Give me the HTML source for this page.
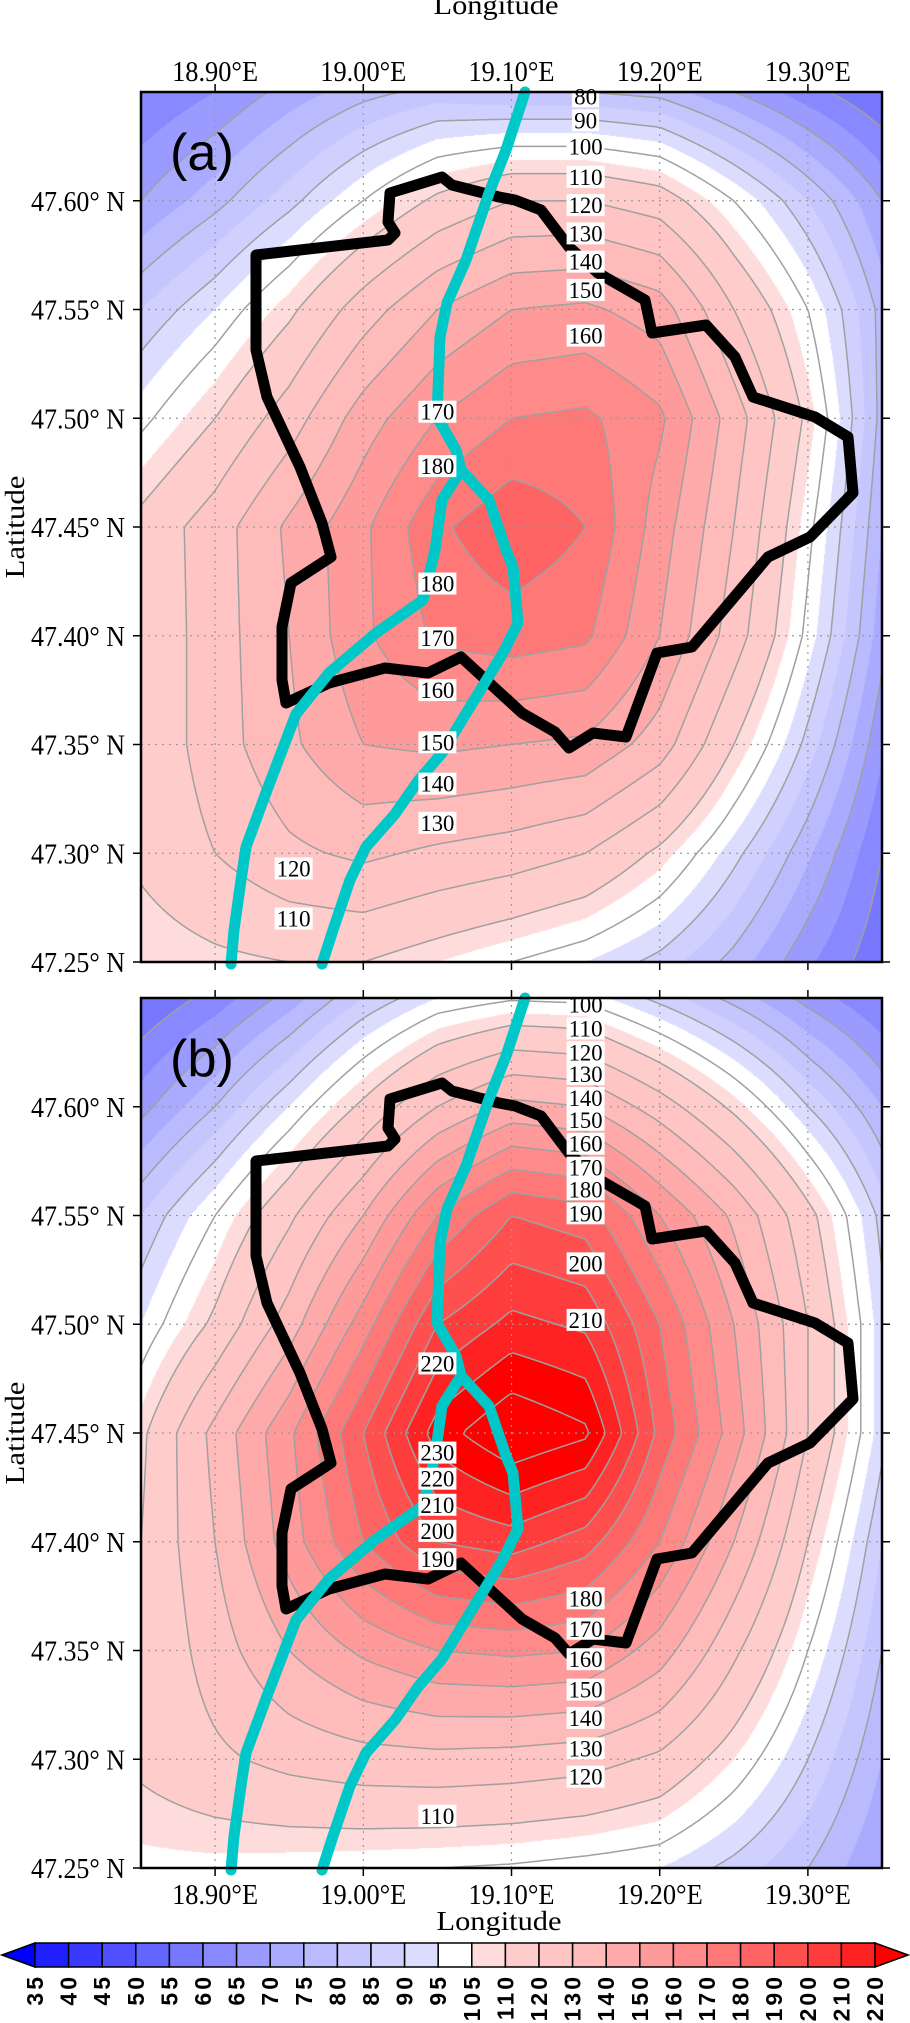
<!DOCTYPE html>
<html><head><meta charset="utf-8">
<style>
html,body{margin:0;padding:0;background:#fff;}
#wrap{position:relative;width:910px;height:2023px;overflow:hidden;}
canvas{position:absolute;left:141px;}
svg{position:absolute;left:0;top:0;}
text{font-family:"Liberation Serif",serif;}
</style></head>
<body>
<div id="wrap">
<canvas id="cva" width="741" height="870" style="top:92px"></canvas>
<canvas id="cvb" width="741" height="870" style="top:998px"></canvas>
<svg id="ov" width="910" height="2023" xmlns="http://www.w3.org/2000/svg"></svg>
</div>
<script>
// ---- data ----
const lons = [18.85,18.90,18.95,19.00,19.05,19.10,19.15,19.20,19.25,19.30,19.35];
const lats = [47.65,47.60,47.55,47.50,47.45,47.40,47.35,47.30,47.25];
const gridA = [
 [60,65,72,78,82,80,80,78,70,62,55],
 [70,78,88,100,112,120,120,115,100,85,70],
 [85,95,108,125,140,150,152,145,120,100,78],
 [98,110,125,145,160,170,172,162,135,108,78],
 [113,125,142,158,178,188,180,155,130,102,75],
 [112,125,140,158,172,175,172,150,125,98,72],
 [112,125,138,150,152,150,148,135,110,88,66],
 [112,120,128,132,128,125,120,108,92,76,60],
 [105,108,110,110,105,100,95,88,78,66,56]
];
const gridB = [
 [55,62,72,85,95,99,98,88,78,68,60],
 [68,80,95,112,130,143,140,125,108,90,75],
 [85,100,118,140,170,190,185,160,138,113,88],
 [95,112,135,165,200,213,208,180,150,120,92],
 [108,133,158,190,225,240,232,187,155,120,92],
 [110,130,155,180,200,205,195,170,140,110,85],
 [110,125,140,152,160,162,160,145,122,100,80],
 [112,118,123,126,127,126,124,118,105,90,75],
 [103,103,102,101,100,99,97,95,88,80,70]
];
const cbLevels = [35,40,45,50,55,60,65,70,75,80,85,90,95,105,110,120,130,140,150,160,170,180,190,200,210,220];
const cbColors = ['#0000ff','#2020ff','#3a3aff','#5050ff','#6464ff','#7878ff','#8888ff','#9a9aff','#aaaaff','#babaff','#c6c6ff','#d0d0ff','#dcdcff','#ffffff','#ffdcdc','#ffcccc','#ffc4c4','#ffbaba','#ffaaaa','#ff9a9a','#ff8a8a','#ff7878','#ff6464','#ff5050','#ff3c3c','#ff2222','#ff0000'];
const lineLevels = [30,40,50,60,70,80,90,100,110,120,130,140,150,160,170,180,190,200,210,220,230,240];
const lonTicks = [18.90,19.00,19.10,19.20,19.30];
const lonTickLabels = ['18.90°E','19.00°E','19.10°E','19.20°E','19.30°E'];
const latTicks = [47.60,47.55,47.50,47.45,47.40,47.35,47.30,47.25];
const latTickLabels = ['47.60° N','47.55° N','47.50° N','47.45° N','47.40° N','47.35° N','47.30° N','47.25° N'];
const labelsA = [[19.15,47.648,'80'],[19.15,47.637,'90'],[19.15,47.625,'100'],[19.15,47.611,'110'],[19.15,47.598,'120'],[19.15,47.585,'130'],[19.15,47.572,'140'],[19.15,47.559,'150'],[19.15,47.538,'160'],[19.05,47.503,'170'],[19.05,47.478,'180'],[19.05,47.424,'180'],[19.05,47.399,'170'],[19.05,47.375,'160'],[19.05,47.351,'150'],[19.05,47.332,'140'],[19.05,47.314,'130'],[18.953,47.293,'120'],[18.953,47.270,'110']];
const labelsB = [[19.15,47.647,'100'],[19.15,47.636,'110'],[19.15,47.625,'120'],[19.15,47.615,'130'],[19.15,47.604,'140'],[19.15,47.594,'150'],[19.15,47.583,'160'],[19.15,47.572,'170'],[19.15,47.562,'180'],[19.15,47.551,'190'],[19.15,47.528,'200'],[19.15,47.502,'210'],[19.05,47.482,'220'],[19.05,47.441,'230'],[19.05,47.429,'220'],[19.05,47.417,'210'],[19.05,47.405,'200'],[19.05,47.392,'190'],[19.15,47.374,'180'],[19.15,47.360,'170'],[19.15,47.346,'160'],[19.15,47.332,'150'],[19.15,47.319,'140'],[19.15,47.305,'130'],[19.15,47.292,'120'],[19.05,47.274,'110']];
// geography (pixel coords relative to panel a)
const boundary = [[256,255],[388,240],[395,233],[388,222],[390,193],[442,177],[452,185],[499,197],[515,200],[541,210],[569,247],[598,273],[645,300],[652,333],[706,325],[735,357],[753,397],[815,417],[848,437],[853,493],[810,537],[768,557],[692,647],[657,653],[626,737],[593,733],[569,748],[555,732],[522,713],[461,657],[428,673],[385,668],[329,683],[286,703],[282,680],[282,627],[291,583],[331,557],[322,523],[300,467],[267,397],[256,350]];
const riverMain = [[525,92],[506,150],[489,193],[466,260],[447,303],[440,337],[437,417],[456,450],[461,470]];
const riverWest = [[461,470],[442,500],[435,550],[423,600],[376,633],[329,673],[296,714],[267,790],[246,847],[241,880],[234,930],[231,964]];
const riverEast = [[461,470],[489,500],[506,550],[513,567],[518,623],[503,653],[470,707],[442,753],[418,781],[395,814],[366,847],[350,880],[333,930],[322,964]];

// ---- axes ----
const PL=141, PW=741, PH=870;
const tops = {a:92, b:998};
function xOf(lon){return PL + (lon-18.85)/0.5*PW;}
function yOf(lat,top){return top + (47.65-lat)/0.4*PH;}
function fieldVal(g,px,py){
  const gx = Math.min(Math.max(px/PW*10,0),9.9999), gy = Math.min(Math.max(py/PH*8,0),7.9999);
  const i=Math.floor(gx), j=Math.floor(gy), fx=gx-i, fy=gy-j;
  return g[j][i]*(1-fx)*(1-fy)+g[j][i+1]*fx*(1-fy)+g[j+1][i]*(1-fx)*fy+g[j+1][i+1]*fx*fy;
}
function colorIdx(v){let k=0;while(k<cbLevels.length && v>=cbLevels[k])k++;return k;}
function hex(c){return [parseInt(c.substr(1,2),16),parseInt(c.substr(3,2),16),parseInt(c.substr(5,2),16)];}
const rgb = cbColors.map(hex);

function fill(id,g){
  const cv=document.getElementById(id), ctx=cv.getContext('2d');
  const img=ctx.createImageData(PW,PH);
  for(let y=0;y<PH;y++)for(let x=0;x<PW;x++){
    const c=rgb[colorIdx(fieldVal(g,x+0.5,y+0.5))], o=(y*PW+x)*4;
    img.data[o]=c[0];img.data[o+1]=c[1];img.data[o+2]=c[2];img.data[o+3]=255;
  }
  ctx.putImageData(img,0,0);
}
fill('cva',gridA); fill('cvb',gridB);

const NS='http://www.w3.org/2000/svg';
const ov=document.getElementById('ov');
function mk(tag,attrs,parent){const e=document.createElementNS(NS,tag);for(const k in attrs)e.setAttribute(k,attrs[k]);(parent||ov).appendChild(e);return e;}

function contours(g,top,name){
  const grp=mk('g',{});
  
  
  const s=4, nx=Math.ceil(PW/s), ny=Math.ceil(PH/s);
  const V=[];
  for(let j=0;j<=ny;j++){V.push([]);for(let i=0;i<=nx;i++)V[j].push(fieldVal(g,Math.min(i*s,PW),Math.min(j*s,PH)));}
  for(const L of lineLevels){
    let d='';
    for(let j=0;j<ny;j++)for(let i=0;i<nx;i++){
      const x0=PL+i*s,y0=top+j*s,x1=PL+Math.min((i+1)*s,PW),y1=top+Math.min((j+1)*s,PH);
      const a=V[j][i],b=V[j][i+1],c=V[j+1][i+1],e=V[j+1][i];
      const pts=[];
      if((a<L)!==(b<L))pts.push([x0+(L-a)/(b-a)*(x1-x0),y0]);
      if((b<L)!==(c<L))pts.push([x1,y0+(L-b)/(c-b)*(y1-y0)]);
      if((e<L)!==(c<L))pts.push([x0+(L-e)/(c-e)*(x1-x0),y1]);
      if((a<L)!==(e<L))pts.push([x0,y0+(L-a)/(e-a)*(y1-y0)]);
      if(pts.length>=2)d+='M'+pts[0][0].toFixed(1)+' '+pts[0][1].toFixed(1)+'L'+pts[1][0].toFixed(1)+' '+pts[1][1].toFixed(1);
      if(pts.length===4)d+='M'+pts[2][0].toFixed(1)+' '+pts[2][1].toFixed(1)+'L'+pts[3][0].toFixed(1)+' '+pts[3][1].toFixed(1);
    }
    if(d){const p=mk('path',{d:d,stroke:'#a0a0a0','stroke-width':1.5,fill:'none'},grp);
      
      }
  }
}

function polyPts(arr,dy){return arr.map(p=>p[0]+','+(p[1]+dy)).join(' ');}

function panel(key,g,labels,letter){
  const top=tops[key], dy=top-92;
  for(let i=0;i<lonTicks.length;i++){
    const x=xOf(lonTicks[i]);
    const l=mk('line',{x1:x,y1:top,x2:x,y2:top+PH,stroke:'#999','stroke-width':1.2,'stroke-dasharray':'2 5'});
    
    
  }
  for(let i=0;i<latTicks.length;i++){
    const y=yOf(latTicks[i],top);
    const l=mk('line',{x1:PL,y1:y,x2:PL+PW,y2:y,stroke:'#999','stroke-width':1.2,'stroke-dasharray':'2 5'});
    
    
  }
  contours(g,top,'contour-lines-'+key);
  const b=mk('polygon',{points:polyPts(boundary,dy),fill:'none',stroke:'#000','stroke-width':11,'stroke-linejoin':'round'});
  
  
  [riverMain,riverWest,riverEast].forEach(r=>{
    const p=mk('polyline',{points:polyPts(r,dy),fill:'none',stroke:'#00c8c8','stroke-width':11,'stroke-linejoin':'round','stroke-linecap':'round'});
    
    
  });
  for(const lb of labels){
    const x=xOf(lb[0]), y=yOf(lb[1],top), w=lb[2].length*11+5;
    const gg=mk('g',{});
    
    
    mk('rect',{x:x-w/2,y:y-11,width:w,height:22,fill:'#fff'},gg);
    const t=mk('text',{x:x,y:y+8,'text-anchor':'middle','font-size':23,fill:'#000',textLength:w-4,lengthAdjust:'spacingAndGlyphs'},gg);
    t.textContent=lb[2];
  }
  const f=mk('rect',{x:PL,y:top,width:PW,height:PH,fill:'none',stroke:'#000','stroke-width':2.5});
  
  
  for(let i=0;i<latTicks.length;i++){
    const y=yOf(latTicks[i],top);
    mk('line',{x1:PL-8,y1:y,x2:PL,y2:y,stroke:'#000','stroke-width':1.5});
    mk('line',{x1:PL+PW,y1:y,x2:PL+PW+8,y2:y,stroke:'#000','stroke-width':1.5});
    const t=mk('text',{x:125,y:y+10,'text-anchor':'end','font-size':28,fill:'#000',textLength:94,lengthAdjust:'spacingAndGlyphs'});
    
    
    t.textContent=latTickLabels[i];
  }
  for(let i=0;i<lonTicks.length;i++){
    const x=xOf(lonTicks[i]);
    mk('line',{x1:x,y1:top-8,x2:x,y2:top,stroke:'#000','stroke-width':1.5});
    mk('line',{x1:x,y1:top+PH,x2:x,y2:top+PH+8,stroke:'#000','stroke-width':1.5});
    const ty = key==='a'? top-11 : top+PH+36;
    const t=mk('text',{x:x,y:ty,'text-anchor':'middle','font-size':28,fill:'#000',textLength:86,lengthAdjust:'spacingAndGlyphs'});
    
    
    t.textContent=lonTickLabels[i];
  }
  const lt=mk('text',{x:0,y:0,'text-anchor':'middle','font-size':27,fill:'#000',textLength:103,lengthAdjust:'spacingAndGlyphs',transform:'translate(24,'+(top+435)+') rotate(-90)'});
  
  
  lt.textContent='Latitude';
  const pl=mk('text',{x:170,y:top+78,'font-size':52,fill:'#000',style:'font-family:"Liberation Sans",sans-serif',textLength:64,lengthAdjust:'spacingAndGlyphs'});
  
  
  pl.textContent=letter;
}
panel('a',gridA,labelsA,'(a)');
panel('b',gridB,labelsB,'(b)');

const t1=mk('text',{x:496,y:14,'text-anchor':'middle','font-size':27,fill:'#000',textLength:125,lengthAdjust:'spacingAndGlyphs'});


t1.textContent='Longitude';
const t2=mk('text',{x:499,y:1930,'text-anchor':'middle','font-size':27,fill:'#000',textLength:125,lengthAdjust:'spacingAndGlyphs'});


t2.textContent='Longitude';

// ---- colorbar ----
const cbL=35, cbR=875, cbT=1943, cbB=1967, nBox=cbLevels.length-1, bw=(cbR-cbL)/nBox;
const cb=mk('g',{});


const lta=mk('polygon',{points:`${cbL},${cbT} ${cbL},${cbB} 2,${(cbT+cbB)/2}`,fill:cbColors[0],stroke:'#000','stroke-width':1.5},cb);


for(let i=0;i<nBox;i++){
  const r=mk('rect',{x:cbL+i*bw,y:cbT,width:bw,height:cbB-cbT,fill:cbColors[i+1],stroke:'#000','stroke-width':1.5},cb);
  
  
}
const rta=mk('polygon',{points:`${cbR},${cbT} ${cbR},${cbB} 908,${(cbT+cbB)/2}`,fill:cbColors[cbColors.length-1],stroke:'#000','stroke-width':1.5},cb);


for(let i=0;i<cbLevels.length;i++){
  const x=cbL+i*bw;
  const s=String(cbLevels[i]);
  const t=mk('text',{x:0,y:0,'text-anchor':'end','font-size':23,'font-weight':'bold','letter-spacing':'3',fill:'#000',style:'font-family:"Liberation Sans",sans-serif',transform:`translate(${x+8},1974) rotate(-90)`},cb);
  
  
  t.textContent=s;
}
</script>
</body></html>
